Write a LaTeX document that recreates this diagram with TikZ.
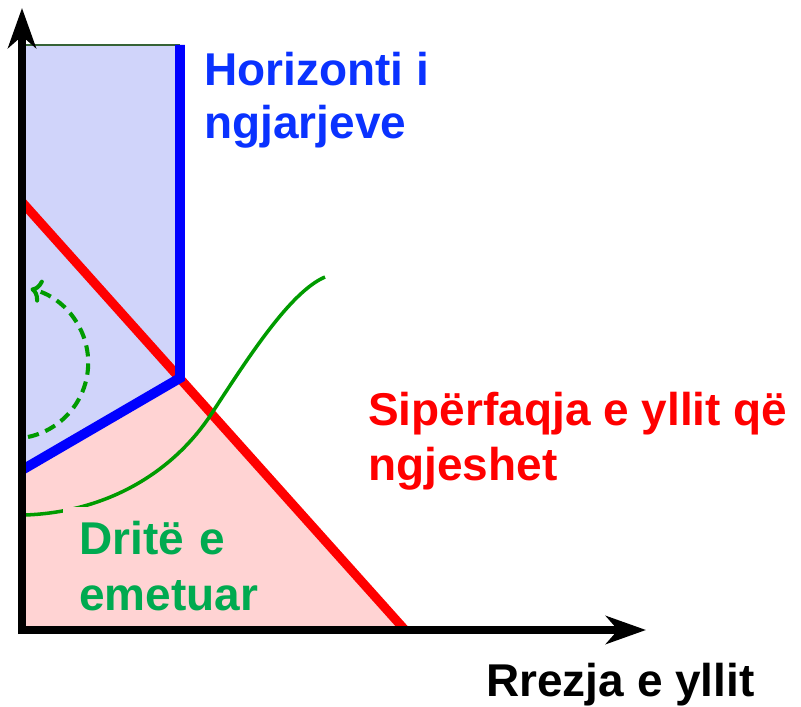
\documentclass[tikz,border=0pt]{standalone}
\usepackage{fontspec}
\setmainfont{Liberation Sans}
\usetikzlibrary{arrows.meta}
\definecolor{horblue}{RGB}{0,0,255}
\definecolor{txtblue}{RGB}{10,50,255}
\definecolor{surfred}{RGB}{255,0,0}
\definecolor{lightgreen}{RGB}{0,170,80}
\definecolor{raygreen}{RGB}{0,155,0}
\definecolor{bluefill}{RGB}{208,212,250}
\definecolor{pinkfill}{RGB}{255,211,211}
\begin{document}
\begin{tikzpicture}[x=0.025cm,y=-0.025cm]
\tikzstyle{axis} = [line width=5.7pt,-{Stealth[length=1cm,width=0.7cm,inset=0.3cm]}];
\tikzstyle{horizon} = [horblue,line width=7pt];
\tikzstyle{surface} = [surfred,line width=6.5pt];
\tikzstyle{ray} = [raygreen,line width=2.5pt];
\tikzstyle{lbl} = [anchor=base west,inner sep=0pt,align=left];
\useasboundingbox (0,0) rectangle (801,707);
\coordinate (o) at (22,630);
\coordinate (ya) at (22,8);
\coordinate (xa) at (646,630);
\coordinate (hl) at (22,45);
\coordinate (hr) at (180,45);
\coordinate (c) at (180,378);
\coordinate (hb) at (22,470);
\coordinate (st) at (22,202);
\coordinate (sb) at (405,630);

% regions
\fill [bluefill] (hl) -- (hr) -- (c) -- (hb) -- cycle;
\fill [pinkfill] (hb) -- (c) -- (sb) -- (o) -- cycle;
\draw [gray!70!green!60!black,line width=1.4pt] (hl) -- (hr);

% star surface and horizon
\draw [surface] (st) -- (sb);
\draw [horizon,line join=miter] (hr) -- (c) -- (hb);

% light rays
\coordinate (l0) at (25,515);
\coordinate (l1) at (212,413);
\coordinate (l2) at (325,277);
\draw [ray] (l0) .. controls (110,512) and (175,470) .. (l1)
  .. controls (248,358) and (290,292) .. (l2);
\coordinate (d0) at (28,437);
\draw [ray,line width=2.9pt,dash pattern=on 8pt off 5pt,->] (d0) arc [start angle=78,end angle=-76,radius=76];

% axes
\draw [axis] (22,634) -- (ya);
\draw [axis] (18,630) -- (xa);

% labels
\node [lbl,txtblue,font=\bfseries\fontsize{32.7}{37.7}\selectfont] (hor) at (204,139) {Horizonti i\\ngjarjeve};
\node [lbl,surfred,font=\bfseries\fontsize{32.7}{39.1}\selectfont] (surf) at (368,480) {Sipërfaqja e yllit që\\ngjeshet};
\node [lightgreen,fill=pinkfill,anchor=north west,inner xsep=0.4cm,inner ysep=0pt,text width=4.55cm,minimum height=2.95cm,align=left,font=\bfseries\fontsize{32.7}{39.8}\selectfont] (light) at (63,507) {Dritë e\\emetuar};
\node [lbl,font=\bfseries\fontsize{32.7}{37.7}\selectfont] (rad) at (486,696) {Rrezja e yllit};
\end{tikzpicture}
\end{document}
